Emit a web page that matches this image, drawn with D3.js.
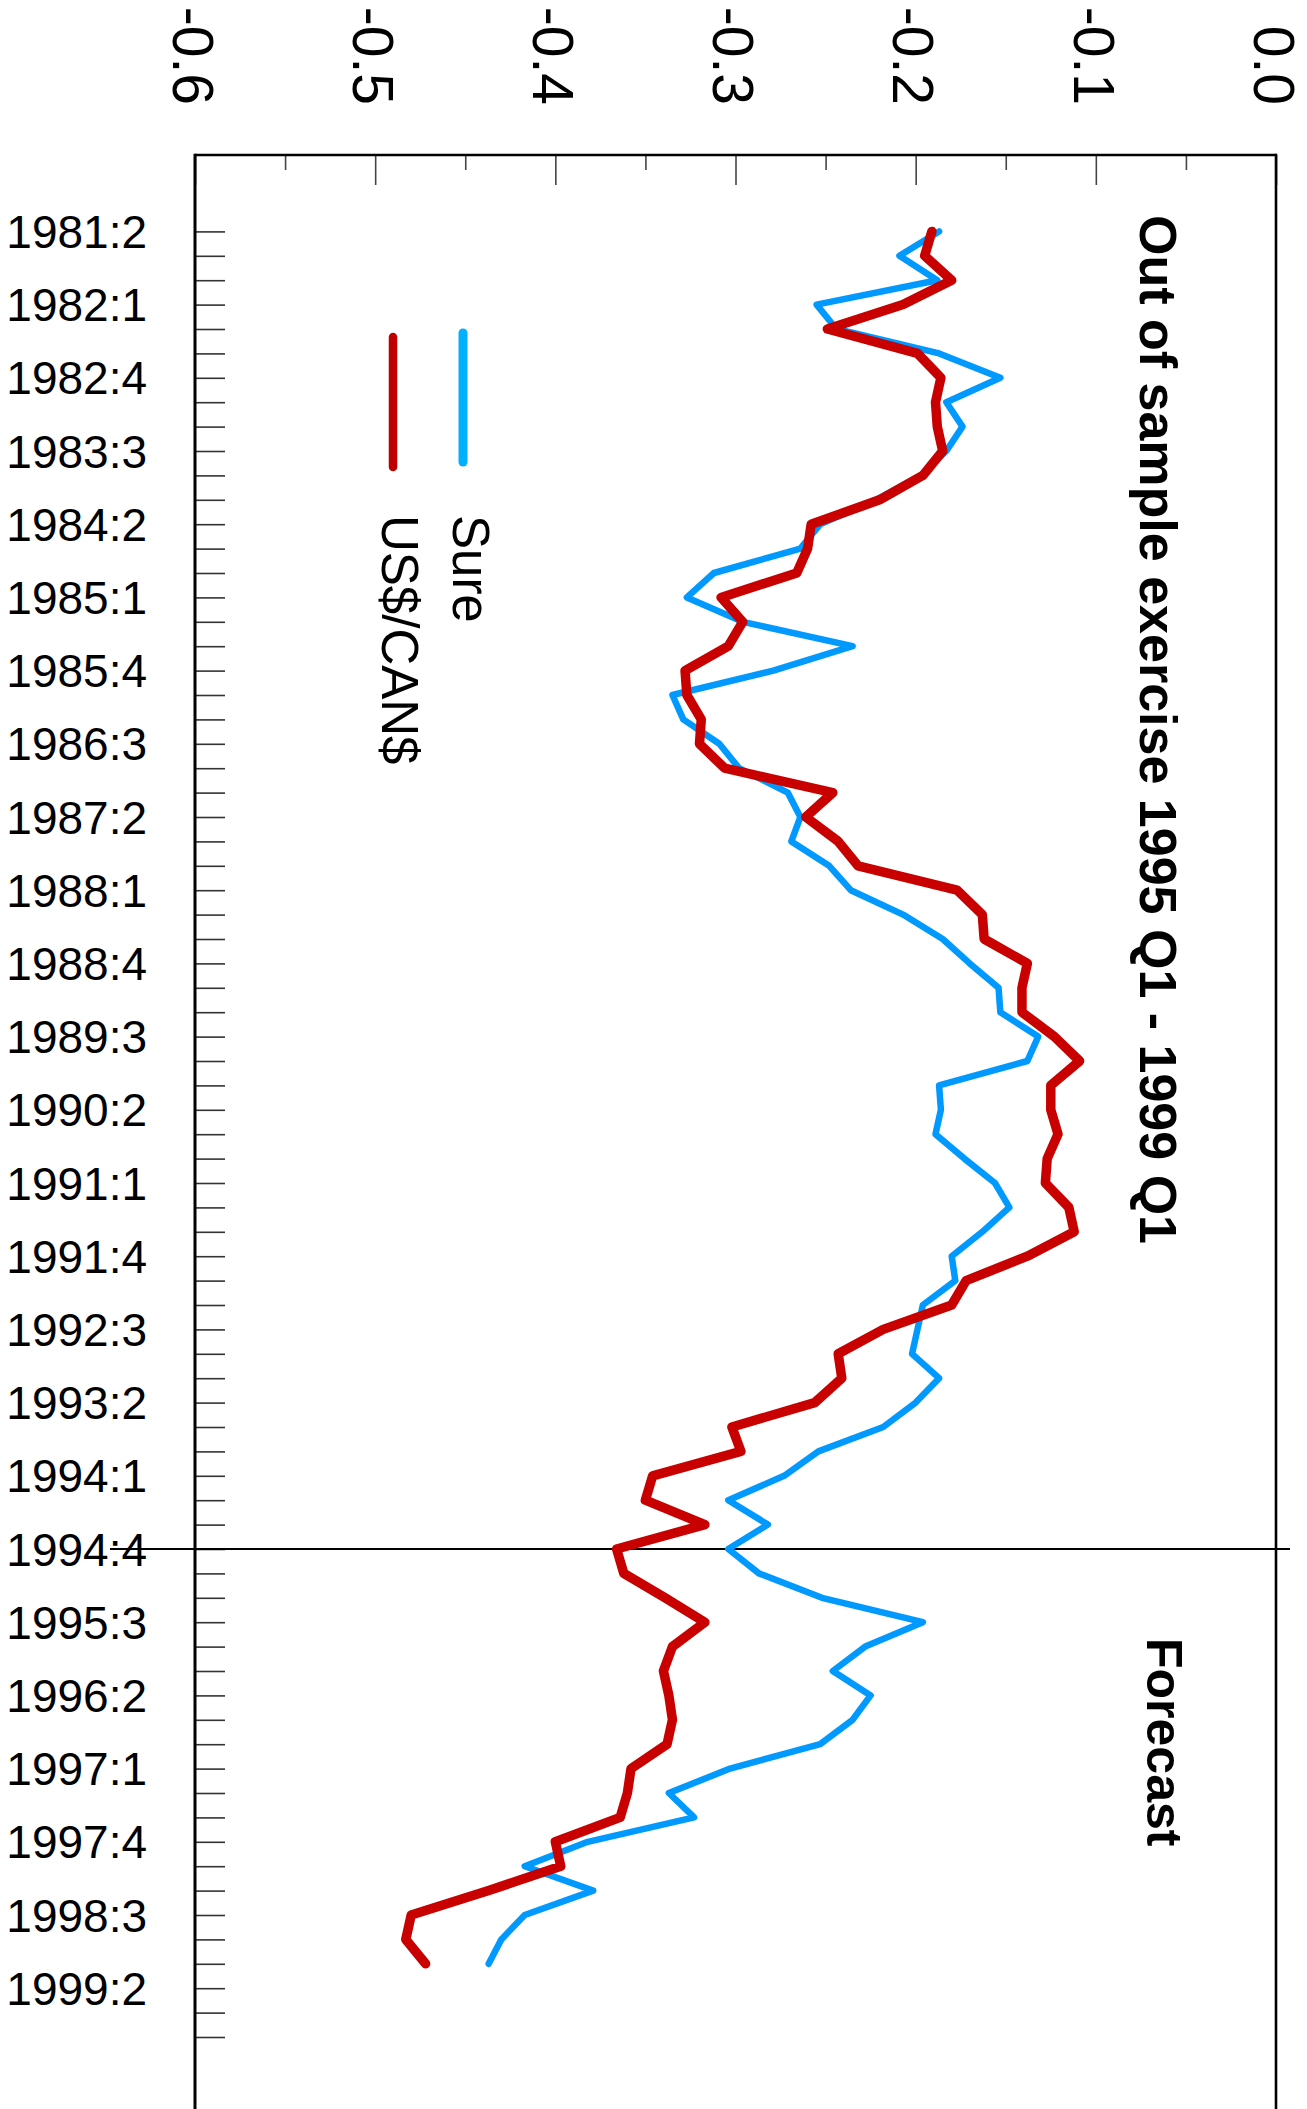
<!DOCTYPE html>
<html>
<head>
<meta charset="utf-8">
<script src="https://cdn.jsdelivr.net/npm/d3@7/dist/d3.min.js"></script>
<style>
  html, body { margin: 0; padding: 0; background: #fff; }
  svg { display: block; }
  text { font-family: "Liberation Sans", Arial, sans-serif; fill: #000; }
</style>
</head>
<body>
<svg id="chart" width="1307" height="2109"></svg>
<script>
// ---------- DATA ----------
// quarterly categories from 1981:2 through 1999:4 (axis ticks)
function buildQuarters(y0, q0, y1, q1) {
  const out = [];
  let yy = y0, q = q0;
  while (yy < y1 || (yy === y1 && q <= q1)) {
    out.push(yy + ":" + q);
    q++; if (q > 4) { q = 1; yy++; }
  }
  return out;
}
const quarters = buildQuarters(1981, 2, 1999, 4);

const quarterLabels = ["1981:2","1982:1","1982:4","1983:3","1984:2","1985:1","1985:4",
  "1986:3","1987:2","1988:1","1988:4","1989:3","1990:2","1991:1","1991:4","1992:3",
  "1993:2","1994:1","1994:4","1995:3","1996:2","1997:1","1997:4","1998:3","1999:2"];

const valueTicks = [-0.6, -0.5, -0.4, -0.3, -0.2, -0.1, 0.0];
const valueTickLabels = ["-0.6", "-0.5", "-0.4", "-0.3", "-0.2", "-0.1", "0.0"];
const valueMinorTicks = [-0.55, -0.45, -0.35, -0.25, -0.15, -0.05];

// series: 1981:2 .. 1999:1
const sure = [
  -0.187, -0.209, -0.188, -0.255, -0.244, -0.187, -0.153, -0.183, -0.174, -0.183,
  -0.197, -0.222, -0.253, -0.264, -0.312, -0.327, -0.296, -0.235, -0.279, -0.335,
  -0.329, -0.309, -0.298, -0.271, -0.264, -0.269, -0.248, -0.236, -0.207, -0.185,
  -0.170, -0.154, -0.153, -0.132, -0.138, -0.187, -0.186, -0.189, -0.173, -0.156,
  -0.148, -0.163, -0.180, -0.178, -0.196, -0.199, -0.202, -0.187, -0.200, -0.218,
  -0.254, -0.273, -0.304, -0.282, -0.304, -0.287, -0.252, -0.196, -0.228, -0.246,
  -0.225, -0.235, -0.253, -0.303, -0.337, -0.323, -0.382, -0.417, -0.379, -0.417,
  -0.430, -0.437
];
const usCan = [
  -0.191, -0.195, -0.180, -0.207, -0.249, -0.199, -0.186, -0.189, -0.188, -0.185,
  -0.196, -0.220, -0.258, -0.260, -0.266, -0.308, -0.296, -0.304, -0.328, -0.327,
  -0.319, -0.320, -0.306, -0.246, -0.261, -0.243, -0.232, -0.177, -0.163, -0.162,
  -0.138, -0.141, -0.141, -0.123, -0.109, -0.125, -0.125, -0.121, -0.127, -0.128,
  -0.115, -0.112, -0.138, -0.172, -0.180, -0.218, -0.243, -0.241, -0.256, -0.302,
  -0.297, -0.346, -0.350, -0.317, -0.366, -0.362, -0.339, -0.317, -0.335, -0.340,
  -0.337, -0.335, -0.338, -0.358, -0.360, -0.364, -0.400, -0.397, -0.437, -0.480,
  -0.483, -0.472
];
const seriesNames = ["Sure", "US$/CAN$"];
const forecastStart = "1994:4";
const titleText = "Out of sample exercise 1995 Q1 - 1999 Q1";
const forecastText = "Forecast";

// ---------- LAYOUT ----------
const plotLeft = 195, plotRight = 1276, plotTop = 155, plotBottom = 2140;
const svg = d3.select("#chart");

const x = d3.scaleLinear().domain([-0.6, 0]).range([plotLeft, plotRight]);
const step = 24.4;
const y = d3.scalePoint().domain(quarters).range([231.4, 231.4 + (quarters.length - 1) * step]);

// ---------- AXES ----------
// top: minor ticks
svg.append("g")
  .attr("transform", `translate(0,${plotTop})`)
  .call(d3.axisTop(x).tickValues(valueMinorTicks).tickSize(-15).tickFormat(""))
  .call(g => g.select(".domain").remove())
  .call(g => g.selectAll("line").attr("stroke", "#444").attr("stroke-width", 1.6));
// top: major ticks
svg.append("g")
  .attr("transform", `translate(0,${plotTop})`)
  .call(d3.axisTop(x).tickValues(valueTicks).tickSize(-30).tickFormat(""))
  .call(g => g.select(".domain").remove())
  .call(g => g.selectAll("line").attr("stroke", "#444").attr("stroke-width", 1.6));
// top labels rotated
svg.append("g").selectAll("text")
  .data(valueTicks)
  .join("text")
  .attr("transform", d => `translate(${x(d)},105) rotate(90)`)
  .attr("text-anchor", "end")
  .attr("dy", "0.39em")
  .style("font-size", "57px")
  .text((d, i) => valueTickLabels[i]);

// left axis
svg.append("g")
  .attr("transform", `translate(${plotLeft},0)`)
  .call(d3.axisLeft(y).tickSize(-30).tickPadding(48)
    .tickFormat(d => quarterLabels.includes(d) ? d : ""))
  .call(g => g.select(".domain").remove())
  .call(g => g.selectAll("line").attr("stroke", "#333").attr("stroke-width", 1.6))
  .call(g => g.selectAll("text")
    .attr("dy", "0.35em")
    .style("font-size", "46px")
    .style("font-family", "'Liberation Sans', Arial, sans-serif")
    .attr("fill", "#000"));

// frame
const frame = svg.append("g").attr("stroke", "#000").attr("fill", "none");
frame.append("line").attr("x1", plotLeft).attr("x2", plotRight).attr("y1", plotTop).attr("y2", plotTop).attr("stroke-width", 2.6);
frame.append("line").attr("x1", plotLeft).attr("x2", plotLeft).attr("y1", plotTop - 1.3).attr("y2", plotBottom).attr("stroke-width", 3);
frame.append("line").attr("x1", plotRight).attr("x2", plotRight).attr("y1", plotTop - 1.3).attr("y2", plotBottom).attr("stroke-width", 2.6);

// forecast divider
svg.append("line")
  .attr("x1", 110).attr("x2", 1290)
  .attr("y1", y(forecastStart)).attr("y2", y(forecastStart))
  .attr("stroke", "#000").attr("stroke-width", 2);

// ---------- LINES ----------
const dataQuarters = quarters.slice(0, sure.length);
const line = d3.line()
  .x(d => x(d.v))
  .y(d => y(d.q));

svg.append("path")
  .datum(sure.map((v, i) => ({ q: dataQuarters[i], v })))
  .attr("d", line)
  .attr("fill", "none")
  .attr("stroke", "#0099FF")
  .attr("stroke-width", 6.5)
  .attr("stroke-linejoin", "round")
  .attr("stroke-linecap", "round");

svg.append("path")
  .datum(usCan.map((v, i) => ({ q: dataQuarters[i], v })))
  .attr("d", line)
  .attr("fill", "none")
  .attr("stroke", "#C80000")
  .attr("stroke-width", 9.5)
  .attr("stroke-linejoin", "round")
  .attr("stroke-linecap", "round");

// ---------- TEXT ----------
svg.append("text")
  .attr("transform", "translate(1140,215) rotate(90)")
  .style("font-size", "52px")
  .style("font-weight", "bold")
  .text(titleText);

svg.append("text")
  .attr("transform", "translate(1147,1638) rotate(90)")
  .style("font-size", "50px")
  .style("font-weight", "bold")
  .text(forecastText);

// ---------- LEGEND ----------
const legendItems = [
  { name: seriesNames[0], color: "#00B0FF", width: 9, lx: 463, y1: 333, y2: 462, tx: 453 },
  { name: seriesNames[1], color: "#C00000", width: 8.5, lx: 393, y1: 337, y2: 467, tx: 382 }
];
const lg = svg.append("g");
lg.selectAll("line")
  .data(legendItems)
  .join("line")
  .attr("x1", d => d.lx).attr("x2", d => d.lx)
  .attr("y1", d => d.y1).attr("y2", d => d.y2)
  .attr("stroke", d => d.color)
  .attr("stroke-width", d => d.width)
  .attr("stroke-linecap", "round");
lg.selectAll("text")
  .data(legendItems)
  .join("text")
  .attr("transform", d => `translate(${d.tx},515) rotate(90)`)
  .style("font-size", "51px")
  .text(d => d.name);
</script>
</body>
</html>
